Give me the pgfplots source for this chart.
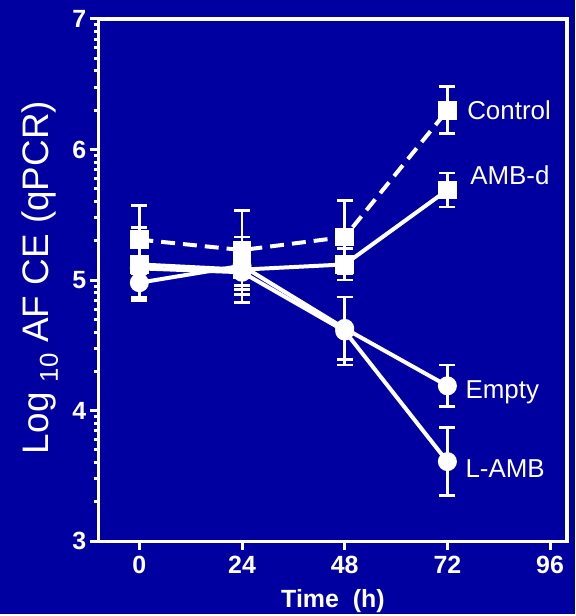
\documentclass[border=0pt]{standalone}
\usepackage{pgfplots}
\pgfplotsset{compat=1.18}
\usepackage{fontspec}
\setmainfont{Liberation Sans}
\definecolor{bg}{RGB}{0,0,160}
\begin{document}
\begin{tikzpicture}[x=1pt,y=1pt]
\fill[bg] (-99,-73) rectangle (478,543);
\begin{axis}[
  at={(0,0)}, anchor=south west,
  width=470pt, height=524pt, scale only axis,
  xmin=-9.5, xmax=100, ymin=3, ymax=7,
  axis line style={white, line width=3.5pt},
  xtick={0,24,48,72,96}, ytick={3,4,5,6,7},
  minor ytick={3.30103,3.47712,3.60206,3.69897,3.77815,3.84510,3.90309,3.95424,
               4.30103,4.47712,4.60206,4.69897,4.77815,4.84510,4.90309,4.95424,
               5.30103,5.47712,5.60206,5.69897,5.77815,5.84510,5.90309,5.95424,
               6.30103,6.47712,6.60206,6.69897,6.77815,6.84510,6.90309,6.95424},
  tick style={white, line width=3pt},
  major tick length=9pt, minor tick length=5pt,
  tick align=outside, xtick pos=lower, ytick pos=left,
  ticklabel style={font=\fontsize{25}{25}\selectfont\bfseries, text=white},
  /pgf/number format/assume math mode=true,
  xticklabel style={yshift=-2pt},
  xlabel={Time\ \ (h)},
  xlabel style={font=\fontsize{25}{25}\selectfont\bfseries, text=white,
    at={(axis description cs:0.5,-0.1145)}, anchor=center},
  ylabel={Log \textsubscript{10} AF CE (qPCR)},
  ylabel style={font=\fontsize{37}{37}\selectfont, text=white,
    at={(axis description cs:-0.1255,0.505)}, anchor=center},
  clip=false,
  every axis plot/.append style={white, line width=4pt},
  error bars/error bar style={white, line width=2.8pt, solid},
  error bars/error mark options={rotate=90, mark size=8pt, line width=2.8pt, white, solid},
]
\addplot[dash pattern=on 14pt off 8pt, mark=square*, mark size=7.5pt, mark options={solid, fill=white},
  error bars/.cd, y dir=both, y explicit] table[x=x, y=y, y error=e] {
x y e
0 5.31 0.26
24 5.23 0.30
48 5.33 0.28
72 6.30 0.18
};
\addplot[mark=square*, mark size=7.5pt, mark options={solid, fill=white},
  error bars/.cd, y dir=both, y explicit] table[x=x, y=y, y error=e] {
x y e
0 5.12 0.28
24 5.08 0.25
48 5.12 0.12
72 5.69 0.13
};
\addplot[mark=*, mark size=7.5pt, mark options={solid, fill=white},
  error bars/.cd, y dir=both, y explicit] table[x=x, y=y, y error=e] {
x y e
0 4.98 0.12
24 5.11 0.15
48 4.63 0.24
72 4.19 0.16
};
\addplot[mark=*, mark size=7.5pt, mark options={solid, fill=white},
  error bars/.cd, y dir=both, y explicit] table[x=x, y=y, y error=e] {
x y e
0 5.09 0.22
24 5.06 0.17
48 4.61 0.26
72 3.61 0.26
};
\node[anchor=base west, inner sep=0, text=white, font=\fontsize{26}{26}\selectfont] at (axis cs:76.6,6.23) {Control};
\node[anchor=base west, inner sep=0, text=white, font=\fontsize{26}{26}\selectfont] at (axis cs:77.3,5.73) {AMB-d};
\node[anchor=base west, inner sep=0, text=white, font=\fontsize{26}{26}\selectfont] at (axis cs:76.2,4.09) {Empty};
\node[anchor=base west, inner sep=0, text=white, font=\fontsize{26}{26}\selectfont] at (axis cs:76.2,3.49) {L-AMB};
\end{axis}
\end{tikzpicture}
\end{document}
